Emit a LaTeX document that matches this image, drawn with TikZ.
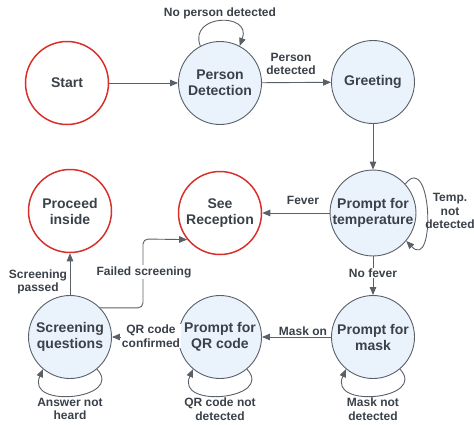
\documentclass[tikz,border=0pt]{standalone}
\usepackage{fontspec}
\setmainfont{Liberation Sans}
\usetikzlibrary{arrows.meta}
\definecolor{txt}{HTML}{3B4149}
\definecolor{edge}{HTML}{5A6068}
\definecolor{stfill}{HTML}{EAF2FB}
\definecolor{redc}{HTML}{D8312B}
\tikzset{
  state/.style={circle, minimum size=83pt, inner sep=0pt, draw=edge, line width=0.9pt, fill=stfill,
    align=center, text=txt, font=\bfseries\fontsize{14}{16}\selectfont},
  term/.style={state, draw=redc, fill=white, line width=1.5pt},
  lbl/.style={text=txt, align=center, inner sep=1pt, font=\bfseries\fontsize{12}{13.5}\selectfont},
  wlbl/.style={lbl, fill=white},
  arr/.style={draw=edge, line width=0.9pt, -{Triangle[length=8pt,width=6.5pt]}}
}
\begin{document}
\begin{tikzpicture}[x=1pt,y=-1pt]
\useasboundingbox (0,0) rectangle (474,424);
\node[term]  (st) at (67,83)  {Start};
\node[state] (pd) at (220,83) {Person\\Detection};
\node[state] (gr) at (373,82) {Greeting};
\node[state] (tp) at (373,213) {Prompt for\\temperature};
\node[term]  (sr) at (220,213) {See\\Reception};
\node[term]  (pi) at (70,211) {Proceed\\inside};
\node[state] (sq) at (70,337) {Screening\\questions};
\node[state] (qr) at (220,337) {Prompt for\\QR code};
\node[state] (mk) at (373,337) {Prompt for\\mask};

% straight edges
\draw[arr] (st) -- (pd);
\draw[arr] (pd) -- (gr);
\draw[arr] (gr) -- (tp);
\draw[arr] (tp) -- (sr);
\draw[arr] (tp) -- (mk);
\draw[arr] (mk) -- (qr);
\draw[arr] (qr) -- (sq);
\draw[arr] (sq) -- (pi);
\coordinate (fs) at (143,239);
\draw[arr, rounded corners=5pt] (sq.44) -| (fs) -- (sr.219);

% self loops
\draw[arr] (pd.118) .. controls (188,14) and (252,12) .. (pd.62);
\draw[arr] (tp.42) .. controls (432,150) and (436,272) .. (tp.-40);
\draw[arr] (sq.-50) .. controls +(28,30) and +(-18,40) .. (sq.-130);
\draw[arr] (qr.-50) .. controls +(28,30) and +(-18,40) .. (qr.-130);
\draw[arr] (mk.-50) .. controls +(28,30) and +(-18,40) .. (mk.-130);

% labels
\node[lbl]  (l1) at (220,13)  {No person detected};
\node[lbl]  (l2) at (291,64)  {Person\\detected};
\node[lbl]  (l3) at (303,200) {Fever};
\node[lbl]  (l4) at (450,211) {Temp.\\not\\detected};
\node[wlbl] (l5) at (373,273) {No fever};
\node[wlbl] (l6) at (303,331) {Mask on};
\node[wlbl] (l7) at (151,336) {QR code\\confirmed};
\node[wlbl] (l8) at (144,272) {Failed screening};
\node[lbl]  (l9) at (38,282)  {Screening\\passed};
\node[lbl]  (l10) at (70,409) {Answer not\\heard};
\node[lbl]  (l11) at (220,409) {QR code not\\detected};
\node[lbl]  (l12) at (373,409) {Mask not\\detected};
\end{tikzpicture}
\end{document}
